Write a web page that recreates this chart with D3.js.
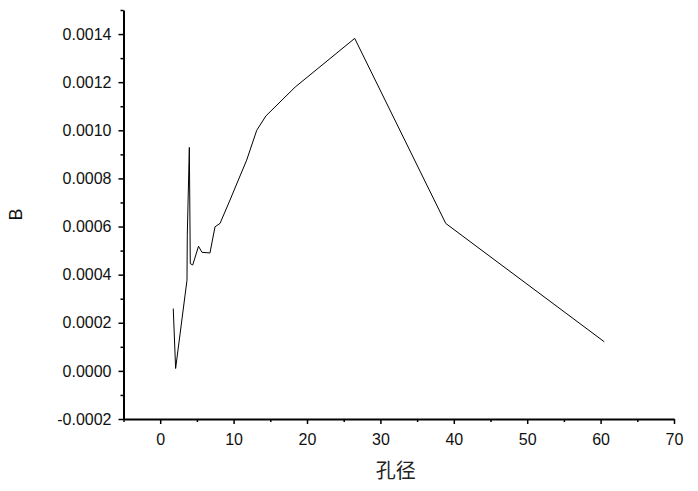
<!DOCTYPE html>
<html>
<head>
<meta charset="utf-8">
<script src="https://cdn.jsdelivr.net/npm/d3@7"></script>
<style>
  body { margin: 0; background: #fff; }
  .tick text { font-family: "Liberation Sans", Arial, sans-serif; font-size: 16px; fill: #111; }
</style>
</head>
<body>
<div id="chart"></div>
<script>
/* DATA */
const poreSize = [1.78, 2.10, 3.65, 3.69, 3.97, 4.10, 4.43, 5.22, 5.69, 6.78, 7.47, 8.15,
  9.51, 10.64, 11.78, 13.15, 14.41, 18.4, 26.5, 38.9, 60.5];
const bValues = [0.000259, 0.000010, 0.000377, 0.000564, 0.000929, 0.000446, 0.000440,
  0.000518, 0.000493, 0.000490, 0.000599, 0.000613, 0.000710, 0.000793, 0.000876,
  0.001000, 0.001060, 0.001180, 0.001382, 0.000613, 0.000121];
const xTicks = [0, 10, 20, 30, 40, 50, 60, 70];
const yTicks = [-0.0002, 0, 0.0002, 0.0004, 0.0006, 0.0008, 0.0010, 0.0012, 0.0014];
const xLabel = "孔径";
const yLabel = "B";

/* CONSTANTS */
const width = 698;
const height = 491;
const margin = { top: 10, right: 24, bottom: 72, left: 123.5 };

const data = poreSize.map((x, i) => ({ x: x, y: bValues[i] }));

/* SCALES */
const xScale = d3.scaleLinear()
  .domain([-5, 70])
  .range([margin.left, width - margin.right]);

const yScale = d3.scaleLinear()
  .domain([-0.0002, 0.0015])
  .range([height - margin.bottom, margin.top]);

/* SVG */
const svg = d3.select("#chart")
  .append("svg")
  .attr("width", width)
  .attr("height", height)
  .style("background-color", "white");

// minor ticks
const xMinor = d3.range(-5, 71, 5).filter(v => !xTicks.includes(v));
const yMinor = d3.range(-1, 16, 2).map(v => v * 0.0001);

svg.append("g")
  .attr("transform", `translate(0,${yScale(-0.0002)})`)
  .call(d3.axisBottom(xScale).tickValues(xMinor).tickSize(3).tickFormat(""))
  .call(g => g.select(".domain").remove())
  .selectAll("line").attr("stroke", "#000").attr("stroke-width", 1.5);

svg.append("g")
  .attr("transform", `translate(${xScale(-5)},0)`)
  .call(d3.axisLeft(yScale).tickValues(yMinor).tickSize(3).tickFormat(""))
  .call(g => g.select(".domain").remove())
  .selectAll("line").attr("stroke", "#000").attr("stroke-width", 1.5);

// major axes
const xAxis = svg.append("g")
  .attr("transform", `translate(0,${yScale(-0.0002)})`)
  .call(d3.axisBottom(xScale).tickValues(xTicks).tickSize(5).tickSizeOuter(0).tickPadding(10)
    .tickFormat(d3.format("d")));

const yAxis = svg.append("g")
  .attr("transform", `translate(${xScale(-5)},0)`)
  .call(d3.axisLeft(yScale).tickValues(yTicks).tickSize(5).tickSizeOuter(0).tickPadding(7)
    .tickFormat(d => d3.format(".4f")(d).replace("−", "-")));

[xAxis, yAxis].forEach(g => {
  g.select(".domain").attr("stroke", "#000").attr("stroke-width", 2);
  g.selectAll(".tick line").attr("stroke", "#000").attr("stroke-width", 1.5);
});

// axis titles
svg.append("text")
  .attr("x", (xScale(-5) + xScale(70)) / 2 - 3)
  .attr("y", 478)
  .attr("text-anchor", "middle")
  .style("font-family", "'Noto Sans CJK SC', sans-serif")
  .style("font-size", "20px")
  .style("fill", "#222")
  .text(xLabel);

svg.append("text")
  .attr("transform", `translate(21.5,${yScale(0.00065)}) rotate(-90)`)
  .attr("text-anchor", "middle")
  .style("font-family", "'Liberation Sans', Arial, sans-serif")
  .style("font-size", "18px")
  .style("fill", "#111")
  .text(yLabel);

// line
const line = d3.line()
  .x(d => xScale(d.x))
  .y(d => yScale(d.y));

svg.append("path")
  .datum(data)
  .attr("fill", "none")
  .attr("stroke", "#000")
  .attr("stroke-width", 1)
  .attr("d", line);
</script>
</body>
</html>
